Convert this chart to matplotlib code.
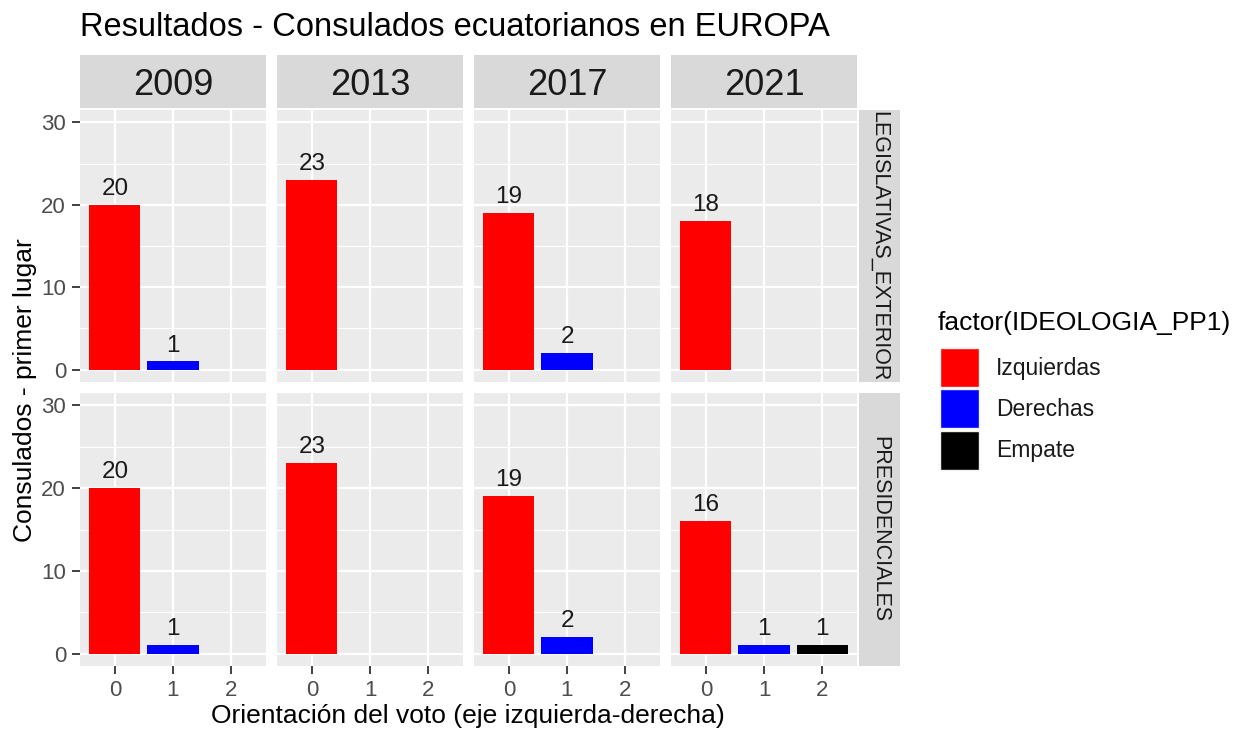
import matplotlib
matplotlib.use("Agg")
import matplotlib.pyplot as plt
from matplotlib.patches import Rectangle

plt.rcParams['font.family'] = ['Liberation Sans', 'DejaVu Sans']

# data
years = ["2009", "2013", "2017", "2021"]
elections = ["LEGISLATIVAS_EXTERIOR", "PRESIDENCIALES"]
orientation = [0, 1, 2]
categories = ["Izquierdas", "Derechas", "Empate"]
colors = ["#FF0000", "#0000FF", "#000000"]

legislativas = [[20, 1, 0], [23, 0, 0], [19, 2, 0], [18, 0, 0]]
presidenciales = [[20, 1, 0], [23, 0, 0], [19, 2, 0], [16, 1, 1]]
counts = [legislativas, presidenciales]

W, H = 1238, 735
fig = plt.figure(figsize=(W / 100, H / 100), dpi=100)


def rect(l, t, r, b):
    return [l / W, 1 - b / H, (r - l) / W, (b - t) / H]


lefts = [80, 277, 474, 671]
pw = 186
rows = [(110, 382), (393, 666)]
grey_txt = "#4D4D4D"

for j, year in enumerate(years):
    l = lefts[j]
    sax = fig.add_axes(rect(l, 55, l + pw, 108))
    sax.set_facecolor("#D9D9D9")
    sax.set_xticks([])
    sax.set_yticks([])
    for s in sax.spines.values():
        s.set_visible(False)
    sax.text(0.5, 0.42, year, ha="center", va="center", fontsize=26, color="#1A1A1A",
             transform=sax.transAxes)

for i, elec in enumerate(elections):
    t, b = rows[i]
    rax = fig.add_axes(rect(859, t, 900, b))
    rax.set_facecolor("#D9D9D9")
    rax.set_xticks([])
    rax.set_yticks([])
    for s in rax.spines.values():
        s.set_visible(False)
    rax.text(0.5, 0.5, elec, ha="center", va="center", rotation=-90, fontsize=15.5,
             color="#1A1A1A", transform=rax.transAxes)

    for j, year in enumerate(years):
        l = lefts[j]
        ax = fig.add_axes(rect(l, t, l + pw, b))
        ax.set_facecolor("#EBEBEB")
        for s in ax.spines.values():
            s.set_visible(False)
        ax.set_xlim(-0.6, 2.6)
        ax.set_ylim(-1.5, 31.5)
        ax.set_yticks([0, 10, 20, 30])
        ax.set_yticks([5, 15, 25], minor=True)
        ax.set_xticks(orientation)
        ax.grid(True, which="major", color="white", linewidth=1.6)
        ax.grid(True, which="minor", axis="y", color="white", linewidth=0.8)
        ax.set_axisbelow(True)
        ax.tick_params(which="minor", length=0)
        ax.tick_params(which="major", color="#333333", length=6, width=1.3,
                       labelcolor=grey_txt, labelsize=16, pad=4)
        if j > 0:
            ax.tick_params(axis="y", length=0, labelleft=False)
        if i == 0:
            ax.tick_params(axis="x", length=0, labelbottom=False)

        vals = counts[i][j]
        for k, v in enumerate(vals):
            if v == 0:
                continue
            ax.bar(orientation[k], v, width=0.88, color=colors[k], zorder=2)
            ax.text(orientation[k], v + 1.2, str(v), ha="center", va="baseline",
                    fontsize=17.5, color="#1A1A1A")

fig.text(80 / W, 1 - 28 / H, "Resultados - Consulados ecuatorianos en EUROPA",
         ha="left", va="center", fontsize=23.5, color="black")
fig.text(468 / W, 1 - 716 / H, "Orientación del voto (eje izquierda-derecha)",
         ha="center", va="center", fontsize=19, color="black")
fig.text(25 / W, 1 - 390 / H, "Consulados - primer lugar", ha="center", va="center",
         rotation=90, fontsize=19, color="black")

# legend, drawn by hand so the key boxes match ggplot's
fig.text(938 / W, 1 - 323 / H, "factor(IDEOLOGIA_PP1)", ha="left", va="center",
         fontsize=19, color="black")
for k, (c, name) in enumerate(zip(colors, categories)):
    top = 348 + k * 41.5
    fig.add_artist(Rectangle((940 / W, 1 - (top + 39) / H), 39 / W, 39 / H,
                             facecolor=c, edgecolor="#F2F2F2", linewidth=1,
                             transform=fig.transFigure))
    fig.text(996 / W, 1 - (top + 20) / H, name, ha="left", va="center",
             fontsize=16.5, color="#1A1A1A")

fig.savefig("out.png", dpi=100)
